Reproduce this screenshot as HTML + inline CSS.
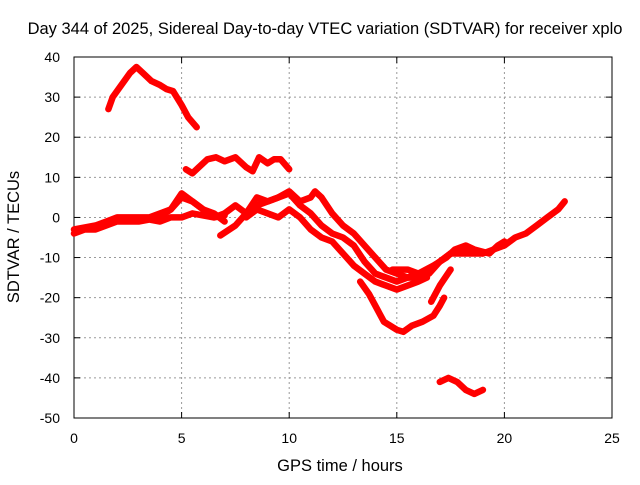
<!DOCTYPE html>
<html><head><meta charset="utf-8"><style>
body{margin:0;background:#fff}
svg text{font-family:"Liberation Sans",sans-serif;font-size:14px;fill:#000}
svg text.big{font-size:16.5px}
</style></head><body>
<svg id="c" width="640" height="480"></svg>
<script>
const xTicks=[0,5,10,15,20,25];
const yTicks=[40,30,20,10,0,-10,-20,-30,-40,-50];
const s1t=[1.6,1.8,2.2,2.6,2.9,3.2,3.6,4,4.3,4.6,5,5.3,5.7];
const s1v=[27,30,33,36,37.5,36,34,33,32,31.5,28,25,22.5];
const s2t=[5.2,5.5,5.8,6.2,6.6,7,7.5,8,8.3,8.6,9,9.3,9.6,10];
const s2v=[12,11,12.5,14.5,15,14,15,12.5,11.5,15,13.5,14.5,14.5,12];
const s3t=[0,0.5,1,1.5,2,2.5,3,3.5,4,4.5,5,5.5,6,6.5,7];
const s3v=[-4,-3,-3,-2,-1,-1,-1,-0.5,-1,0,0,1,0.5,0,0.5];
const s4t=[0,0.5,1,1.5,2,2.5,3,3.5,4,4.5,5,5.5,6,6.5,7];
const s4v=[-3,-2.5,-2,-1,0,0,0,0,1,2,5,4,2,1,-1];
const s5t=[3.8,4.5,5,5.5,6,6.5,7,7.5,8,8.5,9,9.5,10,10.5,11,11.5,12,12.5,13,13.5,14,14.5,15,15.5,16,16.5,17,17.5,18,18.5,19];
const s5v=[-0.5,2,6,4,2,0,1,3,1,3,4,5,6,3,1,-2,-4,-5,-7,-11,-14,-15,-16,-15,-15,-14,-11,-9,-9,-9,-9];
const s6t=[6.8,7.5,8,8.5,9,9.5,10,10.5,11,11.2,11.5,12,12.5,13,13.5,14,14.5,15,15.5,16,16.5,17,17.5,18,18.5,19,19.5,20,20.5,21,21.5,22,22.5,22.8];
const s6v=[-4.5,-2,1,5,4,5,6.5,4,5,6.5,5,1,-2,-4,-7,-10,-13,-14,-15,-14,-13,-11,-9,-8,-8,-9,-8,-7,-5,-4,-2,0,2,4];
const s7t=[8,8.5,9,9.5,10,10.5,11,11.5,12,12.5,13,13.5,14,14.5,15,15.5,16,16.4];
const s7v=[0,2,1,0,2,0,-3,-5,-6,-9,-12,-14,-16,-17,-18,-17,-16,-15];
const s8t=[13.3,13.7,14,14.4,15,15.3,15.7,16.2,16.7,17,17.2];
const s8v=[-16,-19,-22,-26,-28,-28.5,-27,-26,-24.5,-22,-20];
const s9t=[14.8,15.5,16,16.7,17.3,17.7,18.2,18.6,19.3,19.7,20];
const s9v=[-13,-13,-14,-12,-10,-8,-7,-8,-9,-7,-6];
const s10t=[16.6,17,17.5];
const s10v=[-21,-17,-13];
const s11t=[17,17.4,17.8,18.2,18.6,19];
const s11v=[-41,-40,-41,-43,-44,-43];
const series=[[s1t,s1v],[s2t,s2v],[s3t,s3v],[s4t,s4v],[s5t,s5v],[s6t,s6v],[s7t,s7v],[s8t,s8v],[s9t,s9v],[s10t,s10v],[s11t,s11v]];
const X0=74,X1=612,Y0=57,Y1=418;
const xs=t=>X0+(t-0)/25*(X1-X0);
const ys=v=>Y0+(40-v)/90*(Y1-Y0);
const svg=document.getElementById('c');
const NS='http://www.w3.org/2000/svg';
function mk(tag,a){const e=document.createElementNS(NS,tag);for(const k in a)e.setAttribute(k,a[k]);svg.appendChild(e);return e;}
xTicks.forEach(t=>{const x=xs(t);
 if(t>0&&t<25){const g=mk('line',{x1:x,y1:Y0,x2:x,y2:Y1,stroke:'#999','stroke-dasharray':'2,3'});
 
 }
 mk('line',{x1:x,y1:Y1,x2:x,y2:Y1-6,stroke:'#000'});mk('line',{x1:x,y1:Y0,x2:x,y2:Y0+6,stroke:'#000'});
 const l=mk('text',{x:x,y:Y1+25,'text-anchor':'middle'});l.textContent=t;
 
 });
yTicks.forEach(v=>{const y=ys(v);
 if(v<40&&v>-50){const g=mk('line',{x1:X0,y1:y,x2:X1,y2:y,stroke:'#999','stroke-dasharray':'2,3'});
 
 }
 mk('line',{x1:X0,y1:y,x2:X0+6,y2:y,stroke:'#000'});mk('line',{x1:X1,y1:y,x2:X1-6,y2:y,stroke:'#000'});
 const l=mk('text',{x:X0-14,y:y+5,'text-anchor':'end'});l.textContent=v;
 
 });
const fr=mk('rect',{x:X0,y:Y0,width:X1-X0,height:Y1-Y0,fill:'none',stroke:'#000'});


series.forEach(([ts,vs],i)=>{
 const pts=ts.map((t,j)=>xs(t).toFixed(1)+','+ys(vs[j]).toFixed(1)).join(' ');
 const p=mk('polyline',{points:pts,fill:'none',stroke:'#f00','stroke-width':6.5,'stroke-linejoin':'round','stroke-linecap':'round'});
 
 
});
const ti=mk('text',{x:325,y:34,'text-anchor':'middle','class':'big'});ti.textContent='Day 344 of 2025, Sidereal Day-to-day VTEC variation (SDTVAR) for receiver xplo';


const xt=mk('text',{x:340,y:471,'text-anchor':'middle','class':'big'});xt.textContent='GPS time / hours';


const yt=mk('text',{x:0,y:0,'text-anchor':'middle','class':'big',transform:'translate(19,237) rotate(-90)'});yt.textContent='SDTVAR / TECUs';


</script>
</body></html>
